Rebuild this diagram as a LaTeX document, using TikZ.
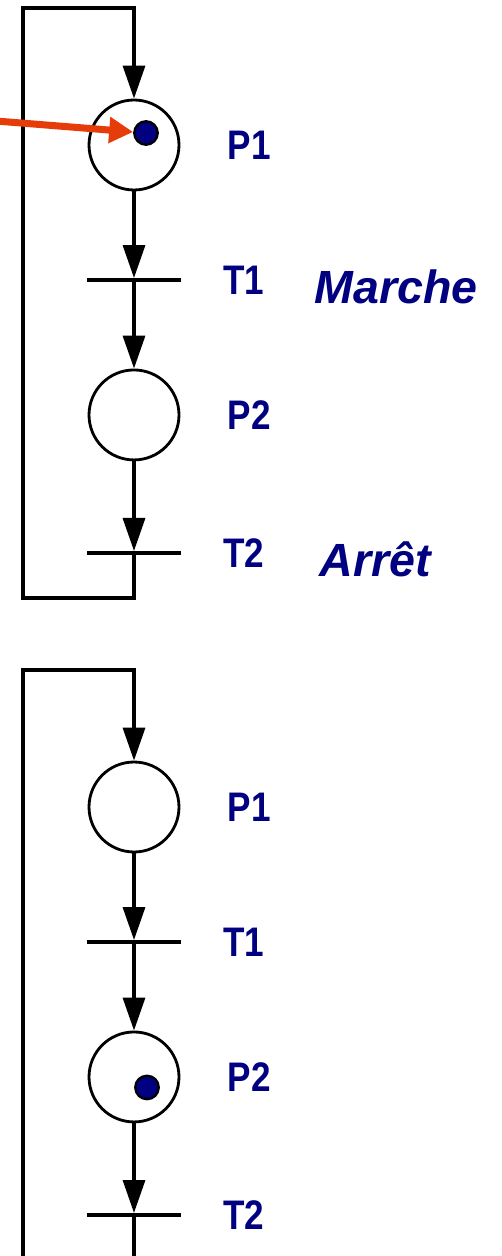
\documentclass[tikz,border=0pt]{standalone}
\usepackage{fontspec}
\usepackage{xcolor}
\usetikzlibrary{arrows.meta,positioning}

\newfontfamily\lblfont[FakeStretch=0.85]{Liberation Sans}
\newfontfamily\notefont{Liberation Sans}
\definecolor{lblblue}{RGB}{0,0,128}
\definecolor{ptrred}{RGB}{230,60,10}

\begin{document}
\begin{tikzpicture}[
    x=0.02cm, y=-0.02cm,
    node distance=2.7cm, on grid,
    place/.style={circle, draw, line width=1.6pt, minimum size=1.8cm, inner sep=0pt},
    trans/.style={rectangle, fill=black, minimum width=1.9cm, minimum height=1.8pt, inner sep=0pt},
    token/.style={circle, draw, line width=1.3pt, fill=lblblue, minimum size=0.47cm, inner sep=0pt},
    lbl/.style={font=\lblfont\bfseries\fontsize{23.5}{26}\selectfont, text=lblblue, inner sep=0pt, anchor=west},
    note/.style={font=\notefont\bfseries\itshape\fontsize{26.5}{30}\selectfont, text=lblblue, inner sep=0pt, anchor=west},
    arc/.style={line width=1.9pt, -{Triangle[length=0.66cm,width=0.44cm]}},
    loopline/.style={line width=1.9pt}
]
\useasboundingbox (0,0) rectangle (501,1256);

% Nodes (marking 1)
\node[place] (p1a) at (134,145) {};
\node[trans, below=of p1a] (t1a) {};
\node[place, below=of t1a] (p2a) {};
\node[trans, below=2.76cm of p2a] (t2a) {};
\node[token, xshift=0.24cm, yshift=0.24cm] (tk1) at (p1a) {};

% Nodes (marking 2)
\node[place] (p1b) at (134,807) {};
\node[trans, below=of p1b] (t1b) {};
\node[place, below=of t1b] (p2b) {};
\node[trans, below=2.76cm of p2b] (t2b) {};
\node[token, xshift=0.26cm, yshift=-0.21cm] (tk2) at (p2b) {};

% Labels
\node[lbl, right=0.94cm of p1a.east] (lp1a) {P1};
\node[lbl, right=0.82cm of t1a.east] (lt1a) {T1};
\node[lbl, right=0.94cm of p2a.east] (lp2a) {P2};
\node[lbl, right=0.82cm of t2a.east] (lt2a) {T2};
\node[note, right=1.0cm of lt1a.east, yshift=-0.14cm] (marche) {Marche};
\node[note, right=1.1cm of lt2a.east, yshift=-0.12cm] (arret) {Arrêt};

\node[lbl, right=0.94cm of p1b.east] (lp1b) {P1};
\node[lbl, right=0.82cm of t1b.east] (lt1b) {T1};
\node[lbl, right=0.94cm of p2b.east] (lp2b) {P2};
\node[lbl, right=0.82cm of t2b.east] (lt2b) {T2};

% Loop corners
\coordinate (la0) at (23,8);
\coordinate (la1) at (134,8);
\coordinate (la2) at (134,598);
\coordinate (la3) at (23,598);
\coordinate (lb0) at (23,670);
\coordinate (lb1) at (134,670);
\coordinate (lb2) at (134,1260);
\coordinate (lb3) at (23,1260);
\coordinate (ptr) at (-4,121);

% Arrows
\draw[arc] (p1a) -- (t1a);
\draw[arc] (t1a) -- (p2a);
\draw[arc] (p2a) -- (t2a);
\draw[arc] (t2a) -- (la2) -- (la3) -- (la0) -- (la1) -- (p1a);

\draw[arc] (p1b) -- (t1b);
\draw[arc] (t1b) -- (p2b);
\draw[arc] (p2b) -- (t2b);
\draw[loopline] (t2b) -- (lb2);
\draw[arc] (lb3) -- (lb0) -- (lb1) -- (p1b);

% Pointer to the token
\draw[ptrred, line width=4pt, -{Triangle[length=0.48cm,width=0.5cm]}] (ptr) -- (tk1);

\end{tikzpicture}
\end{document}
